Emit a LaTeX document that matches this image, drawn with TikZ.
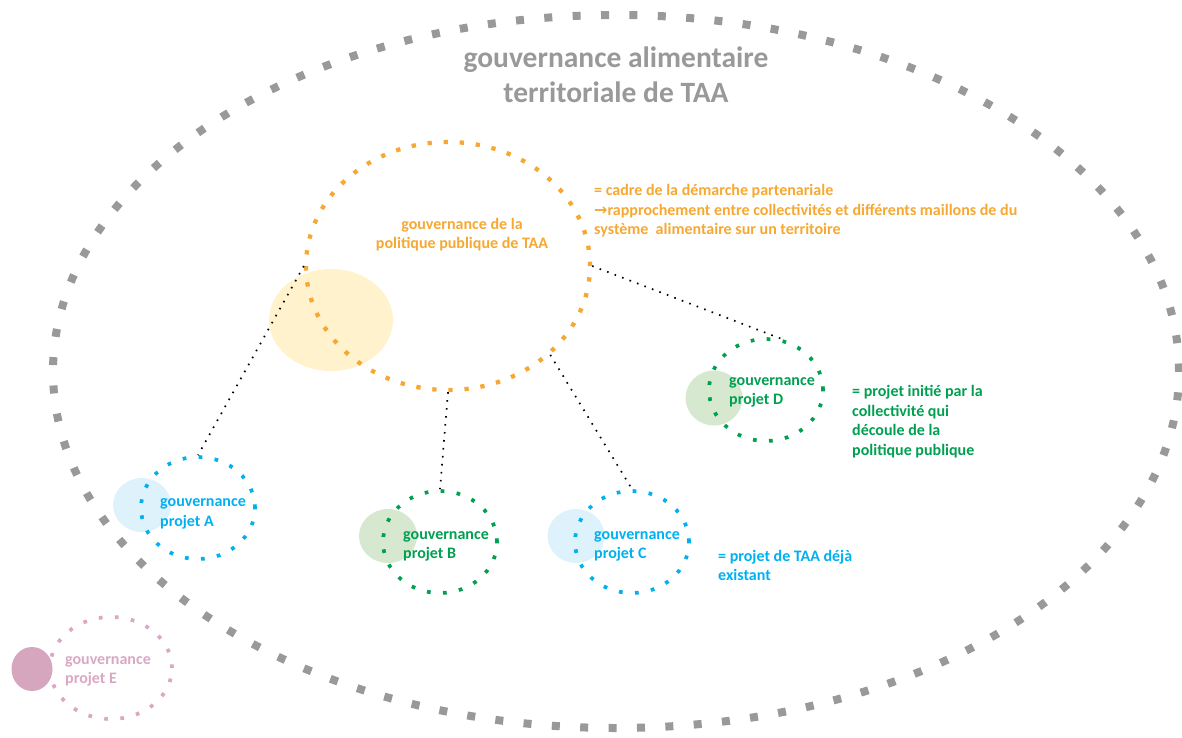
\documentclass[tikz,border=0pt]{standalone}
\usepackage{fontspec}
\setmainfont{Carlito}
\newfontfamily\arrowfont{DejaVu Sans}
\usetikzlibrary{shapes.geometric}
\definecolor{grayc}{RGB}{153,153,153}
\definecolor{orangec}{RGB}{246,168,50}
\definecolor{yellowfill}{RGB}{255,242,204}
\definecolor{bluec}{RGB}{0,176,240}
\definecolor{bluefill}{RGB}{222,242,252}
\definecolor{greenc}{RGB}{0,160,80}
\definecolor{greenfill}{RGB}{214,233,208}
\definecolor{pinkc}{RGB}{218,168,196}
\definecolor{pinkfill}{RGB}{213,166,189}
\newcommand\tstrut[1]{\rule{0pt}{#1}}
\begin{document}
\begin{tikzpicture}[x=1pt,y=-1pt,
  bigring/.style={ellipse, draw=grayc, line width=8pt, dash pattern=on 8pt off 20.4pt, inner sep=0pt},
  polring/.style={ellipse, draw=orangec, line width=4.3pt, dash pattern=on 4.3pt off 11.8pt, inner sep=0pt},
  projring/.style={ellipse, draw=#1, line width=3.7pt, dash pattern=on 3.7pt off 12.4pt, inner sep=0pt, minimum width=114pt, minimum height=102pt},
  blob/.style={ellipse, fill=#1, inner sep=0pt},
  link/.style={draw=black, line width=1.7pt, dash pattern=on 1.6pt off 6.4pt},
  tx/.style={inner sep=0pt, anchor=north west, align=left, text=#1, font=\fontsize{16pt}{19.4pt}\selectfont\bfseries},
  ]
\useasboundingbox (0,0) rectangle (1182,738);
% big territorial ellipse
\node[bigring, minimum width=1126pt, minimum height=713pt] (terr) at (616,371.5) {};
% filled blobs
\node[blob=yellowfill, minimum width=124pt, minimum height=102pt] (yb) at (331,320) {};
\node[blob=bluefill, minimum width=58pt, minimum height=54pt] (ab) at (142,505) {};
\node[blob=greenfill, minimum width=58pt, minimum height=54pt] (bb) at (388,536) {};
\node[blob=bluefill, minimum width=57pt, minimum height=54pt] (cb) at (576,536) {};
\node[blob=greenfill, minimum width=57pt, minimum height=55pt] (db) at (714,398) {};
\node[blob=pinkfill, minimum width=41pt, minimum height=44pt] (eb) at (32,669) {};
% dotted rings
\node[polring, minimum width=284pt, minimum height=248pt] (pol) at (448,266) {};
\node[projring=bluec] (A) at (198,508) {};
\node[projring=greenc] (B) at (440,542) {};
\node[projring=bluec] (C) at (632,542) {};
\node[projring=greenc] (D) at (766,390) {};
\node[projring=pinkc, minimum width=122pt] (E) at (111,668) {};
% links
\draw[link] (pol.west) -- (A.north);
\draw[link] (pol.east) -- (D.72);
\draw[link] (pol.south) -- (B.north);
\draw[link] (pol.-41) -- (C.north);
% texts
\node[inner sep=0pt, anchor=north, align=center, text=grayc, font=\fontsize{29.5pt}{35.5pt}\selectfont\bfseries] (title) at (616,43) {\tstrut{24pt}gouvernance alimentaire\\territoriale de TAA};
\node[inner sep=0pt, anchor=north, align=center, text=orangec, font=\fontsize{16pt}{19pt}\selectfont\bfseries] (poltxt) at (462,216) {\tstrut{13pt}gouvernance de la\\politique publique de TAA};
\node[tx=orangec] (polnote) at (594,182.7) {\tstrut{13pt}= cadre de la démarche partenariale\\{\arrowfont →}rapprochement entre collectivités et différents maillons de du\\système~~alimentaire sur un territoire};
\node[tx=bluec] (Atxt) at (160,493.5) {\tstrut{13pt}gouvernance\\projet A};
\node[tx=greenc] (Btxt) at (403,526.3) {\tstrut{13pt}gouvernance\\projet B};
\node[tx=bluec] (Ctxt) at (594,526.3) {\tstrut{13pt}gouvernance\\projet C};
\node[tx=greenc] (Dtxt) at (729,372) {\tstrut{13pt}gouvernance\\projet D};
\node[tx=pinkc] (Etxt) at (65,651) {\tstrut{13pt}gouvernance\\projet E};
\node[tx=greenc] (Dnote) at (852,383.7) {\tstrut{13pt}= projet initié par la\\collectivité qui\\découle de la\\politique publique};
\node[tx=bluec] (Cnote) at (718,548) {\tstrut{13pt}= projet de TAA déjà\\existant};
\end{tikzpicture}
\end{document}
